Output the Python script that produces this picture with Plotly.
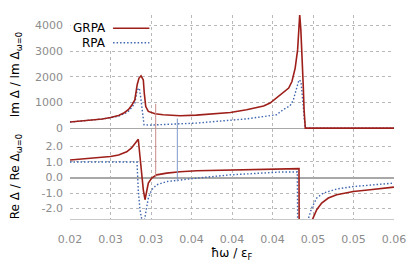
import plotly.graph_objects as go

# ---------------- data ----------------
x_grpa_im = [0.0200, 0.0215, 0.0230, 0.0240, 0.0250, 0.0260, 0.0267, 0.0272, 0.0276, 0.0280,
             0.0283, 0.02852, 0.02877, 0.02905, 0.02917, 0.02935, 0.02967, 0.0305, 0.0315, 0.0336,
             0.0356, 0.0377, 0.0398, 0.0418, 0.0439, 0.0447, 0.0455, 0.0463, 0.0470, 0.0474,
             0.0478, 0.0481, 0.0482, 0.04836, 0.0485, 0.0487, 0.0488, 0.0489, 0.04905, 0.0600]
grpa_im = [235, 270, 315, 355, 410, 490, 600, 720, 880, 1100,
           1700, 1950, 2040, 1880, 1365, 840, 650, 560, 520, 480,
           505, 545, 610, 715, 860, 975, 1170, 1365, 1560, 1815,
           2340, 3050, 3830, 4420, 3830, 2660, 1620, 715, 0, 0]

x_rpa_im = [0.0200, 0.0215, 0.0230, 0.0240, 0.0250, 0.0260, 0.0267, 0.0272, 0.0276, 0.0280,
            0.0283, 0.02856, 0.02877, 0.02893, 0.02914, 0.0299, 0.0315, 0.0336, 0.0356, 0.0377,
            0.0398, 0.0418, 0.0439, 0.0455, 0.0463, 0.04716, 0.04757, 0.04799, 0.04827, 0.04852,
            0.04868, 0.0488, 0.04893, 0.04905, 0.0600]
rpa_im = [235, 270, 315, 355, 405, 470, 560, 650, 800, 975,
          1490, 1560, 1100, 585, 130, 117, 130, 168, 195, 245,
          300, 360, 450, 520, 715, 870, 1100, 1560, 1880, 1815,
          1365, 840, 325, 0, 0]

x_grpa_re = [0.0200, 0.0225, 0.0250, 0.0260, 0.0270, 0.0276, 0.0281, 0.02843, 0.02864, 0.02885,
             0.02905, 0.02926, 0.02947, 0.02967, 0.03009, 0.0307, 0.03194, 0.03358, 0.03564, 0.03975,
             0.04386, 0.04469, 0.04827, 0.04831, 0.0496, 0.04996, 0.05046, 0.05107, 0.05189, 0.05293,
             0.05498, 0.05704, 0.0600]
grpa_re = [1.13, 1.22, 1.35, 1.45, 1.65, 1.90, 2.20, 2.46, 1.35, 0.06,
           -0.79, -1.43, -0.79, -0.36, -0.04, 0.17, 0.28, 0.37, 0.43, 0.49,
           0.54, 0.56, 0.57, -6.0, -4.0, -2.67, -2.07, -1.64, -1.32, -1.11,
           -0.90, -0.79, -0.62]

x_rpa_re = [0.0200, 0.02827, 0.02843, 0.02864, 0.02885, 0.02905, 0.02926, 0.02947, 0.02967, 0.03009,
            0.0307, 0.03194, 0.03358, 0.03564, 0.03975, 0.04386, 0.04593, 0.04806, 0.04815, 0.0490,
            0.04942, 0.04984, 0.05046, 0.05127, 0.05293, 0.05498, 0.05704, 0.0600]
rpa_re = [1.0, 1.0, -0.8, -2.07, -2.67, -3.2, -2.54, -1.86, -1.32, -0.79,
          -0.47, -0.26, -0.15, -0.04, 0.17, 0.28, 0.35, 0.35, -6.0, -4.5,
          -2.67, -1.96, -1.32, -1.0, -0.74, -0.58, -0.47, -0.36]

# vertical marker lines: x, top end (Im value), bottom end (Re value)
marker_x = [0.03058, 0.03325]
marker_im = [947, 374]
marker_re = [-0.04, -0.26]

x_tickvals = [0.02, 0.025, 0.03, 0.035, 0.04, 0.045, 0.05, 0.055, 0.06]
x_ticktext = ["0.02", "0.03", "0.03", "0.04", "0.04", "0.04", "0.05", "0.05", "0.06"]
im_tickvals = [0, 1000, 2000, 3000, 4000]
im_ticktext = ["0", "1000", "2000", "3000", "4000"]
re_tickvals = [-2, -1, 0, 1, 2]
re_ticktext = ["-2.0", "-1.0", "0.0", "1.0", "2.0"]

IM_RANGE = [-230, 4410]
RE_RANGE = [-2.67, 2.8]

# ---------------- style ----------------
RED = "#9e1f1a"
BLUE = "#3f66b0"
RED_THIN = "#c88a88"
BLUE_THIN = "#7f9acb"
GRID = "#b8b8b8"
TICKC = "#8c8c8c"
FONT = "DejaVu Sans"
SPLIT = 0.4167
DOTS = "1.5px,2px"

fig = go.Figure()

# top panel
fig.add_trace(go.Scatter(x=x_rpa_im, y=rpa_im, mode="lines", xaxis="x", yaxis="y",
                         line=dict(color=BLUE, width=1.4, dash=DOTS), showlegend=False))
fig.add_trace(go.Scatter(x=x_grpa_im, y=grpa_im, mode="lines", xaxis="x", yaxis="y",
                         line=dict(color=RED, width=1.6), showlegend=False))
# bottom panel
fig.add_trace(go.Scatter(x=x_rpa_re, y=rpa_re, mode="lines", xaxis="x2", yaxis="y2",
                         line=dict(color=BLUE, width=1.4, dash=DOTS), showlegend=False))
fig.add_trace(go.Scatter(x=x_grpa_re, y=grpa_re, mode="lines", xaxis="x2", yaxis="y2",
                         line=dict(color=RED, width=1.6), showlegend=False))

# marker lines spanning both panels
for mx, mi, mr, col in zip(marker_x, marker_im, marker_re, [RED_THIN, BLUE_THIN]):
    fig.add_trace(go.Scatter(x=[mx, mx], y=[mi, IM_RANGE[0]], mode="lines", xaxis="x", yaxis="y",
                             line=dict(color=col, width=1), showlegend=False))
    fig.add_trace(go.Scatter(x=[mx, mx], y=[RE_RANGE[1], mr], mode="lines", xaxis="x2", yaxis="y2",
                             line=dict(color=col, width=1), showlegend=False))

axis_common = dict(showgrid=True, gridcolor=GRID, griddash="dot", gridwidth=1, automargin=False,
                   ticks="", tickfont=dict(family=FONT, size=11, color=TICKC))

fig.update_layout(
    width=415, height=268,
    margin=dict(l=62, r=29, t=7, b=57),
    paper_bgcolor="white", plot_bgcolor="white",
    font=dict(family=FONT, size=12, color="black"),
    showlegend=False,
    xaxis=dict(domain=[0, 1], range=[0.02, 0.06], anchor="y", matches="x2",
               tickvals=x_tickvals, showticklabels=False, zeroline=False, **axis_common),
    yaxis=dict(domain=[SPLIT, 1], range=IM_RANGE, anchor="x",
               tickvals=im_tickvals, ticktext=im_ticktext, ticklabelstandoff=6,
               zeroline=True, zerolinecolor="#a8a8a8", zerolinewidth=1.2, **axis_common),
    xaxis2=dict(domain=[0, 1], range=[0.02, 0.06], anchor="y2",
                tickvals=x_tickvals, ticktext=x_ticktext, ticklabelstandoff=10,
                zeroline=False, showline=True, linecolor="#c8c8c8", linewidth=1, **axis_common),
    yaxis2=dict(domain=[0, SPLIT], range=RE_RANGE, anchor="x2",
                tickvals=re_tickvals, ticktext=re_ticktext, ticklabelstandoff=6,
                zeroline=True, zerolinecolor="#a8a8a8", zerolinewidth=1.5, **axis_common),
)

# legend (gnuplot style: text then sample)
fig.add_shape(type="rect", xref="paper", yref="paper", x0=0.002, x1=0.245, y0=0.835, y1=1.0,
              fillcolor="white", line=dict(width=0), layer="above")
fig.add_shape(type="line", xref="paper", yref="paper", x0=0.133, x1=0.245, y0=0.935, y1=0.935,
              line=dict(color=RED, width=1.6), layer="above")
fig.add_shape(type="line", xref="paper", yref="paper", x0=0.133, x1=0.245, y0=0.864, y1=0.864,
              line=dict(color=BLUE, width=1.4, dash=DOTS), layer="above")
fig.add_annotation(text="GRPA", xref="paper", yref="paper", x=0.117, y=0.935,
                   xanchor="right", yanchor="middle", showarrow=False,
                   font=dict(family=FONT, size=12, color="black"))
fig.add_annotation(text="RPA", xref="paper", yref="paper", x=0.117, y=0.864,
                   xanchor="right", yanchor="middle", showarrow=False,
                   font=dict(family=FONT, size=12, color="black"))

# axis titles
fig.add_annotation(text="Im Δ / Im Δ<sub>ω=0</sub>", xref="paper", yref="paper",
                   x=-0.164, y=(1 + SPLIT) / 2, textangle=-90, xanchor="center", yanchor="middle",
                   showarrow=False, font=dict(family=FONT, size=12, color="black"))
fig.add_annotation(text="Re Δ / Re Δ<sub>ω=0</sub>", xref="paper", yref="paper",
                   x=-0.164, y=SPLIT / 2, textangle=-90, xanchor="center", yanchor="middle",
                   showarrow=False, font=dict(family=FONT, size=12, color="black"))
fig.add_annotation(text="ħω / ε<sub>F</sub>", xref="paper", yref="paper",
                   x=0.5, y=-0.17, xanchor="center", yanchor="middle",
                   showarrow=False, font=dict(family=FONT, size=12, color="black"))

fig.write_html("out.html")
